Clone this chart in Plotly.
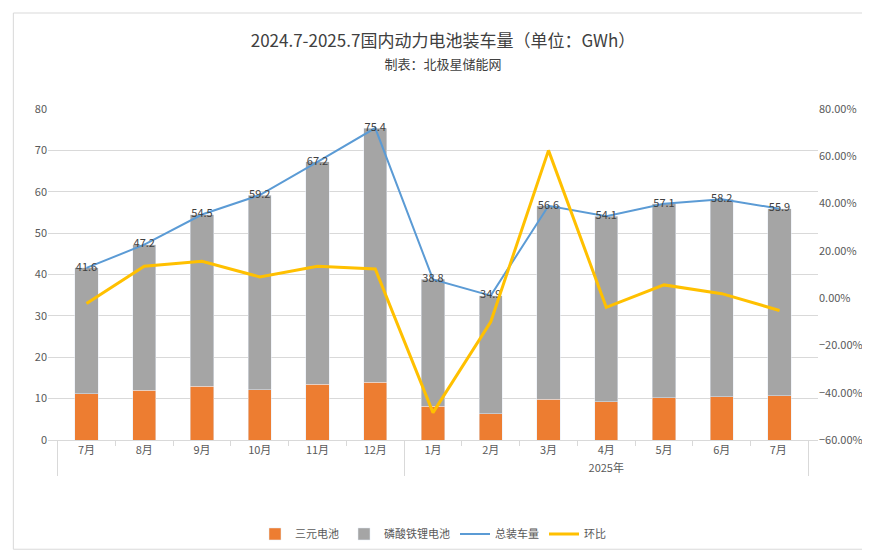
import plotly.graph_objects as go

months = ["7月","8月","9月","10月","11月","12月","1月","2月","3月","4月","5月","6月","7月 "]
years = [" "]*6 + ["2025年"]*7
total = [41.6,47.2,54.5,59.2,67.2,75.4,38.8,34.9,56.6,54.1,57.1,58.2,55.9]
ternary = [11.2,12.0,13.0,12.2,13.5,14.0,8.2,6.3,9.8,9.2,10.2,10.5,10.7]
mom = [-2.3,13.5,15.6,9.0,13.5,12.3,-48.4,-10.0,62.5,-3.9,5.6,1.9,-5.2]
lfp = [round(t-s,1) for t,s in zip(total,ternary)]

x = [years, months]
font = "Noto Sans CJK SC"
fig = go.Figure()
fig.add_bar(x=x, y=ternary, name="三元电池", marker_color="#ED7D31", width=0.4)
fig.add_bar(x=x, y=lfp, name="磷酸铁锂电池", marker_color="#A5A5A5", width=0.4)
fig.add_scatter(x=x, y=total, name="总装车量", mode="lines+text", text=[str(v) for v in total],
                textposition="middle center", textfont=dict(color="#404040", size=11),
                line=dict(color="#5B9BD5", width=2))
fig.add_scatter(x=x, y=mom, name="环比", mode="lines", yaxis="y2",
                line=dict(color="#FFC000", width=3))
fig.update_layout(
    width=870, height=552, barmode="stack", plot_bgcolor="white", paper_bgcolor="white",
    font=dict(family=font, color="#595959", size=11),
    title=dict(text="2024.7-2025.7国内动力电池装车量（单位：GWh）<br><span style='font-size:13px'>制表：北极星储能网</span>",
               x=0.5, y=0.93, yref="container", yanchor="bottom", xanchor="center",
               font=dict(size=17, color="#404040")),
    margin=dict(l=40, r=60, t=101, b=114),
    xaxis=dict(type="multicategory", showline=True, linecolor="#D9D9D9", ticks="outside",
               tickcolor="#D9D9D9", showdividers=True, dividercolor="#D9D9D9"),
    yaxis=dict(range=[0,80], dtick=10, gridcolor="#D9D9D9", zeroline=False),
    yaxis2=dict(overlaying="y", side="right", range=[-60,80], dtick=20, ticksuffix=".00%",
                showgrid=False, zeroline=False),
    legend=dict(orientation="h", x=0.5, xanchor="center", y=-0.24, yanchor="top", traceorder="normal"),
    shapes=[dict(type="rect", xref="paper", yref="paper", x0=-0.045, x1=1.07, y0=-0.33, y1=1.29,
                 line=dict(color="#D9D9D9", width=1))],
)
fig.write_html("out.html")
